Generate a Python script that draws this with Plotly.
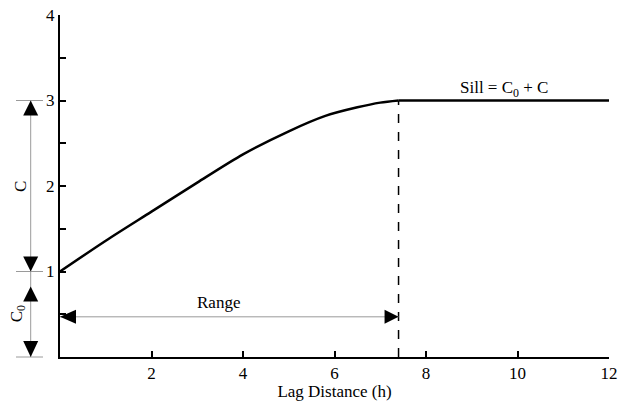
import plotly.graph_objects as go

# ---- data ----
lag = [0, 1, 2, 3, 4, 5, 5.8, 6.5, 7.0, 7.4, 12]
gamma = [1.0, 1.36, 1.70, 2.04, 2.37, 2.64, 2.82, 2.92, 2.975, 3.0, 3.0]
nugget = 1.0          # C0
sill = 3.0            # C0 + C
range_h = 7.4         # range
range_arrow_y = 0.47  # height of the "Range" arrow
x_ticks = [2, 4, 6, 8, 10, 12]
y_ticks = [0.5, 1, 1.5, 2, 2.5, 3, 3.5, 4]
y_ticktext = ["", "1", "", "2", "", "3", "", "4"]

W, H = 625, 401
ML, MR, MT, MB = 60, 16, 15, 44
PW, PH = W - ML - MR, H - MT - MB
XR, YR = (0, 12), (0, 4)
FONT = "Liberation Serif"
GRAY = "#9a9a9a"
N_CURVE = lag.index(range_h) + 1


def xp(v):
    return (v - XR[0]) / (XR[1] - XR[0])


def yp(v):
    return (v - YR[0]) / (YR[1] - YR[0])


def dx(p):
    return p / PW


def dy(p):
    return p / PH


def tri(X, Y, direction, L=15, w=15):
    if direction == "up":
        pts = [(X, Y), (X - dx(w / 2), Y - dy(L)), (X + dx(w / 2), Y - dy(L))]
    elif direction == "down":
        pts = [(X, Y), (X - dx(w / 2), Y + dy(L)), (X + dx(w / 2), Y + dy(L))]
    elif direction == "left":
        pts = [(X, Y), (X + dx(L), Y - dy(w / 2)), (X + dx(L), Y + dy(w / 2))]
    else:
        pts = [(X, Y), (X - dx(L), Y - dy(w / 2)), (X - dx(L), Y + dy(w / 2))]
    path = "M " + " L ".join(f"{a:.5f},{b:.5f}" for a, b in pts) + " Z"
    return dict(type="path", xref="paper", yref="paper", path=path,
                fillcolor="black", line=dict(width=0), layer="above")


fig = go.Figure()
fig.add_trace(go.Scatter(x=lag[:N_CURVE], y=gamma[:N_CURVE], mode="lines",
                         line=dict(color="black", width=2.5, shape="spline", smoothing=0.8),
                         showlegend=False, hoverinfo="skip"))
fig.add_trace(go.Scatter(x=lag[N_CURVE - 1:], y=gamma[N_CURVE - 1:], mode="lines",
                         line=dict(color="black", width=2.5),
                         showlegend=False, hoverinfo="skip"))

shapes = []
# dashed range line
shapes.append(dict(type="line", xref="x", yref="y", x0=range_h, x1=range_h, y0=0, y1=sill,
                   line=dict(color="black", width=1.5, dash="dash")))
# range arrow
shapes.append(dict(type="line", xref="x", yref="y", x0=0, x1=range_h,
                   y0=range_arrow_y, y1=range_arrow_y, line=dict(color=GRAY, width=1)))
shapes.append(tri(xp(0), yp(range_arrow_y), "left", L=16, w=14))
shapes.append(tri(xp(range_h), yp(range_arrow_y), "right", L=14, w=14))

# left dimension lines
X_dim = dx(30.7 - ML)
shapes.append(dict(type="line", xref="paper", yref="paper", x0=X_dim, x1=X_dim,
                   y0=yp(0), y1=yp(sill), line=dict(color=GRAY, width=1)))
for v in [0, nugget, sill]:
    shapes.append(dict(type="line", xref="paper", yref="paper", x0=dx(16 - ML), x1=dx(43 - ML),
                       y0=yp(v), y1=yp(v), line=dict(color=GRAY, width=1)))
shapes.append(tri(X_dim, yp(sill), "up"))
shapes.append(tri(X_dim, yp(nugget), "down"))
shapes.append(tri(X_dim, yp(nugget) - dy(15), "up"))
shapes.append(tri(X_dim, yp(0), "down", L=16))

TXT = dict(family=FONT, size=17, color="black")
annotations = [
    dict(x=xp(range_h / 2 - 0.23), y=yp(range_arrow_y) + dy(14), xref="paper", yref="paper",
         xanchor="center", yanchor="middle",
         text="Range", showarrow=False, font=TXT),
    dict(x=xp(9.7), y=yp(sill) + dy(12), xref="paper", yref="paper",
         xanchor="center", yanchor="middle",
         text="Sill = C<sub>0</sub> + C", showarrow=False, font=TXT),
    dict(x=dx(20 - ML), y=yp((nugget + sill) / 2), xref="paper", yref="paper",
         xanchor="center", yanchor="middle",
         text="C", textangle=-90, showarrow=False, font=TXT),
    dict(x=dx(18 - ML), y=yp(nugget / 2), xref="paper", yref="paper",
         xanchor="center", yanchor="middle",
         text="C<sub>0</sub>", textangle=-90, showarrow=False, font=TXT),
]

fig.update_layout(
    template="none",
    width=W, height=H,
    margin=dict(l=ML, r=MR, t=MT, b=MB),
    paper_bgcolor="white", plot_bgcolor="white",
    font=dict(family=FONT, size=17, color="black"),
    shapes=shapes, annotations=annotations,
    xaxis=dict(range=list(XR), tickvals=x_ticks, ticks="inside", ticklen=6, tickwidth=2,
               tickcolor="black", showline=True, linecolor="black", linewidth=2,
               showgrid=False, zeroline=False, automargin=False,
               title=dict(text="Lag Distance (h)", font=dict(family=FONT, size=17), standoff=2),
               tickfont=dict(family=FONT, size=17)),
    yaxis=dict(range=list(YR), tickvals=y_ticks, ticktext=y_ticktext, ticks="inside",
               ticklen=6, tickwidth=2, tickcolor="black", showline=True, linecolor="black",
               linewidth=2, showgrid=False, zeroline=False, automargin=False,
               tickfont=dict(family=FONT, size=17)),
)

fig.write_html("out.html")
